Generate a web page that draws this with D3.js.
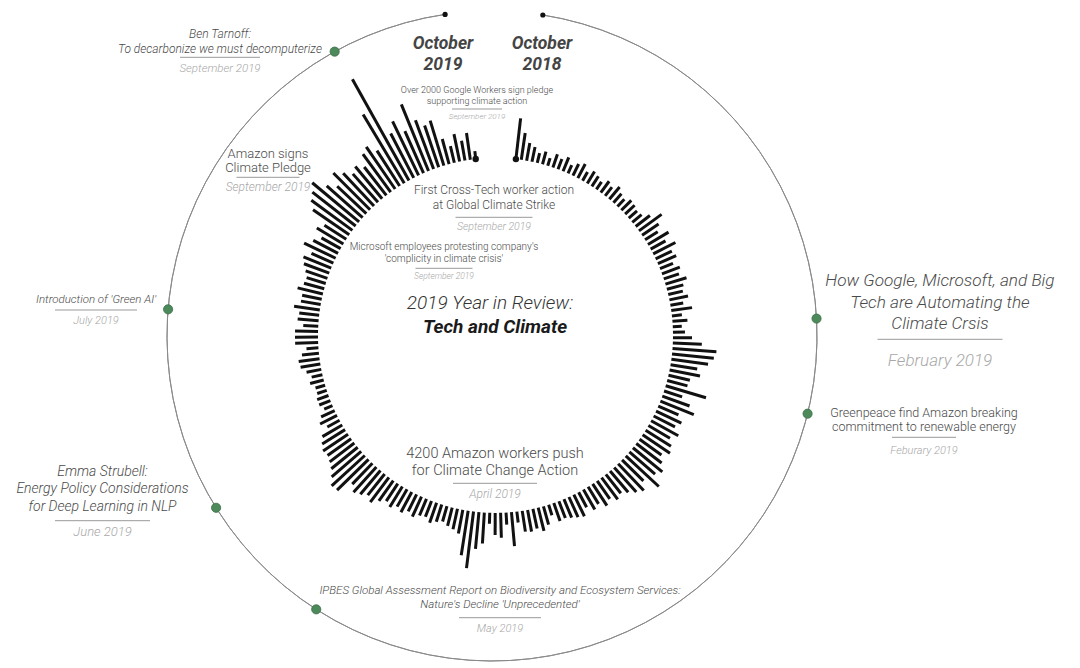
<!DOCTYPE html>
<html>
<head>
<meta charset="utf-8">
<script src="https://cdn.jsdelivr.net/npm/d3@7"></script>
<style>
body { margin: 0; background: #fff; }
text { font-family: Roboto, "Open Sans", sans-serif; }
</style>
</head>
<body>
<svg id="chart" width="1080" height="668"></svg>
<script>
// daily activity, Oct 2018 -> Oct 2019, clockwise from the top
var barValues = [
    41, 27, 18, 15, 10, 13, 8, 14, 11, 15, 9, 13, 16, 10, 14, 12, 9, 14, 11, 16,
    12, 10, 14, 13, 11, 12, 18, 28, 20, 15, 24, 17, 25, 18, 20, 14, 19, 16, 22, 17, 15,
    19, 13, 21, 10, 15, 9, 12, 19, 29, 44, 42, 37, 27, 31, 22, 21, 42, 19,
    29, 36, 22, 28, 24, 31, 25, 30, 33, 27, 32, 38, 34, 45, 30, 37, 33, 28, 24, 27, 22, 26, 20, 23, 17, 24,
    22, 20, 18, 19, 11, 19, 24, 20, 22, 21, 11, 34, 12, 25, 22, 11, 31, 37, 57, 45, 24, 21, 19, 16, 18,
    21, 17, 18, 22, 19, 23, 20, 24, 21, 25, 31, 27, 31, 34, 29, 44, 45, 39, 34, 31, 29, 30, 27,
    23, 14, 19, 15, 9, 12, 12, 10, 10, 14, 11, 15, 20, 21, 17, 12, 23, 23, 23, 15, 21, 20, 26, 20, 20, 26, 21, 20, 23, 27,
    30, 24, 35, 28, 22, 31, 26, 44, 51, 55, 61, 48, 40, 52, 45, 38, 42, 36, 47, 51, 42, 80, 116, 50, 60, 46, 72, 52, 44, 47, 26, 17, 28, 20, 27, 8
];

var periodStart = "2018-10-01";
var periodEnd = "2019-10-01";
var periodLabels = [["October", "2019"], ["October", "2018"]];

// events on the outer ring
var outerTitles = [
    ["Ben Tarnoff:", "To decarbonize we must decomputerize"],
    ["Introduction of 'Green AI'"],
    ["Emma Strubell:", "Energy Policy Considerations", "for Deep Learning in NLP"],
    ["IPBES Global Assessment Report on Biodiversity and Ecosystem Services:", "Nature's Decline 'Unprecedented'"],
    ["How Google, Microsoft, and Big", "Tech are Automating the", "Climate Crsis"],
    ["Greenpeace find Amazon breaking", "commitment to renewable energy"]
];
var outerDates = ["September 2019", "July 2019", "June 2019", "May 2019", "February 2019", "Feburary 2019"];
var outerMarkers = ["2019-09-09", "2019-07-11", "2019-06-02", "2019-05-06", "2018-12-23", "2019-01-10"];

// events written inside the ring
var innerTitles = [
    ["Amazon signs", "Climate Pledge"],
    ["Over 2000 Google Workers sign pledge", "supporting climate action"],
    ["First Cross-Tech worker action", "at Global Climate Strike"],
    ["Microsoft employees protesting company's", "'complicity in climate crisis'"],
    ["4200 Amazon workers push", "for Climate Change Action"]
];
var innerDates = ["September 2019", "September 2019", "September 2019", "September 2019", "April 2019"];

var chartTitle = ["2019 Year in Review:", "Tech and Climate"];

var svg = d3.select("#chart");

var rad = Math.PI / 180;
var inner = { x: 495.5, y: 335.4, r: 177.5 };
var outer = { x: 492, y: 336, r: 325 };

function polar(c, deg, r) {
    return [c.x + r * Math.sin(deg * rad), c.y - r * Math.cos(deg * rad)];
}

// bars
var angle = d3.scaleLinear().domain([0, barValues.length - 1]).range([6.6, 353.6]);
var radius = d3.scaleLinear().domain([0, 120]).range([inner.r, inner.r + 120]);

svg.append("g")
    .selectAll("line")
    .data(barValues)
    .join("line")
    .attr("x1", function (d, i) { return polar(inner, angle(i), radius(0))[0]; })
    .attr("y1", function (d, i) { return polar(inner, angle(i), radius(0))[1]; })
    .attr("x2", function (d, i) { return polar(inner, angle(i), radius(d))[0]; })
    .attr("y2", function (d, i) { return polar(inner, angle(i), radius(d))[1]; })
    .attr("stroke", "#111")
    .attr("stroke-width", 3);

svg.append("g")
    .selectAll("circle")
    .data([0, barValues.length - 1])
    .join("circle")
    .attr("cx", function (d) { return polar(inner, angle(d), inner.r)[0]; })
    .attr("cy", function (d) { return polar(inner, angle(d), inner.r)[1]; })
    .attr("r", 3.2)
    .attr("fill", "#111");

// outer timeline ring
var parse = d3.timeParse("%Y-%m-%d");
var time = d3.scaleTime().domain([parse(periodStart), parse(periodEnd)]).range([9, 351.7]);

svg.append("path")
    .attr("d", d3.arc()({
        innerRadius: outer.r, outerRadius: outer.r,
        startAngle: time.range()[0] * rad, endAngle: time.range()[1] * rad
    }))
    .attr("transform", "translate(" + outer.x + "," + outer.y + ")")
    .attr("fill", "none")
    .attr("stroke", "#8a8a8a")
    .attr("stroke-width", 1);

svg.append("g")
    .selectAll("circle")
    .data(time.range())
    .join("circle")
    .attr("cx", function (d) { return polar(outer, d, outer.r)[0]; })
    .attr("cy", function (d) { return polar(outer, d, outer.r)[1]; })
    .attr("r", 2.6)
    .attr("fill", "#111");

svg.append("g")
    .selectAll("circle")
    .data(outerMarkers)
    .join("circle")
    .attr("cx", function (d) { return polar(outer, time(parse(d)), outer.r)[0]; })
    .attr("cy", function (d) { return polar(outer, time(parse(d)), outer.r)[1]; })
    .attr("r", 4.6)
    .attr("fill", "#4d8a5b")
    .attr("stroke", "#3c6f48")
    .attr("stroke-width", 0.8);

// label layout (x, first line centre, line step, font sizes, separator)
var outerLayout = [
    { x: 220, y: 33.5, lh: 15, size: 12, italic: true, sepY: 57.3, sepW: 80, dateY: 68, dateSize: 11.5 },
    { x: 96, y: 299.3, lh: 0, size: 11.5, italic: true, sepY: 310, sepW: 82, dateY: 320, dateSize: 11 },
    { x: 102.5, y: 470.7, lh: 17.7, size: 14, italic: true, sepY: 520.7, sepW: 95, dateY: 531.7, dateSize: 13 },
    { x: 500, y: 590, lh: 14, size: 11.5, italic: true, sepY: 617.7, sepW: 82, dateY: 628.3, dateSize: 11 },
    { x: 940, y: 280, lh: 21.7, size: 17.2, italic: true, sepY: 339.3, sepW: 125, dateY: 360, dateSize: 17 },
    { x: 924, y: 412.3, lh: 14.4, size: 12.5, italic: false, sepY: 437.3, sepW: 64, dateY: 450, dateSize: 11 }
];
var innerLayout = [
    { x: 268, y: 153, lh: 14, size: 13, italic: false, sepY: 177.3, sepW: 63, dateY: 186.5, dateSize: 12 },
    { x: 477, y: 90, lh: 11, size: 9, italic: false, sepY: 109, sepW: 50, dateY: 115.7, dateSize: 8 },
    { x: 494, y: 190, lh: 15, size: 12, italic: false, sepY: 217.3, sepW: 77, dateY: 226, dateSize: 10.5 },
    { x: 444, y: 246, lh: 12.5, size: 10, italic: false, sepY: 268.3, sepW: 57, dateY: 276, dateSize: 8.5 },
    { x: 495, y: 453, lh: 17, size: 14.5, italic: false, sepY: 483.3, sepW: 84, dateY: 494, dateSize: 12 }
];

function drawLabel(lines, date, o) {
    var g = svg.append("g").attr("text-anchor", "middle");
    g.selectAll("text.title")
        .data(lines)
        .join("text")
        .attr("class", "title")
        .attr("x", o.x)
        .attr("y", function (d, i) { return o.y + i * o.lh; })
        .attr("dy", "0.35em")
        .attr("font-size", o.size)
        .attr("font-weight", 300)
        .attr("font-style", o.italic ? "italic" : "normal")
        .attr("fill", "#4a4a4a")
        .text(function (d) { return d; });
    g.append("line")
        .attr("x1", o.x - o.sepW / 2)
        .attr("x2", o.x + o.sepW / 2)
        .attr("y1", o.sepY)
        .attr("y2", o.sepY)
        .attr("stroke", "#999")
        .attr("stroke-width", 1);
    g.append("text")
        .attr("x", o.x)
        .attr("y", o.dateY)
        .attr("dy", "0.35em")
        .attr("font-size", o.dateSize)
        .attr("font-weight", 300)
        .attr("font-style", "italic")
        .attr("fill", "#a8a8a8")
        .text(date);
}

outerTitles.forEach(function (t, i) { drawLabel(t, outerDates[i], outerLayout[i]); });
innerTitles.forEach(function (t, i) { drawLabel(t, innerDates[i], innerLayout[i]); });

// period labels at the gap
var periodX = [443, 542];
periodLabels.forEach(function (p, i) {
    svg.append("g")
        .selectAll("text")
        .data(p)
        .join("text")
        .attr("x", periodX[i])
        .attr("y", function (d, j) { return 42.7 + j * 20.8; })
        .attr("dy", "0.35em")
        .attr("text-anchor", "middle")
        .attr("font-size", 17.5)
        .attr("font-weight", 700)
        .attr("font-style", "italic")
        .attr("fill", "#444")
        .text(function (d) { return d; });
});

// centre title
svg.append("text")
    .attr("x", 490)
    .attr("y", 302)
    .attr("dy", "0.35em")
    .attr("text-anchor", "middle")
    .attr("font-size", 19)
    .attr("font-weight", 300)
    .attr("font-style", "italic")
    .attr("fill", "#333")
    .text(chartTitle[0]);

svg.append("text")
    .attr("x", 495)
    .attr("y", 326)
    .attr("dy", "0.35em")
    .attr("text-anchor", "middle")
    .attr("font-size", 19)
    .attr("font-weight", 700)
    .attr("font-style", "italic")
    .attr("fill", "#1a1a1a")
    .text(chartTitle[1]);
</script>
</body>
</html>
